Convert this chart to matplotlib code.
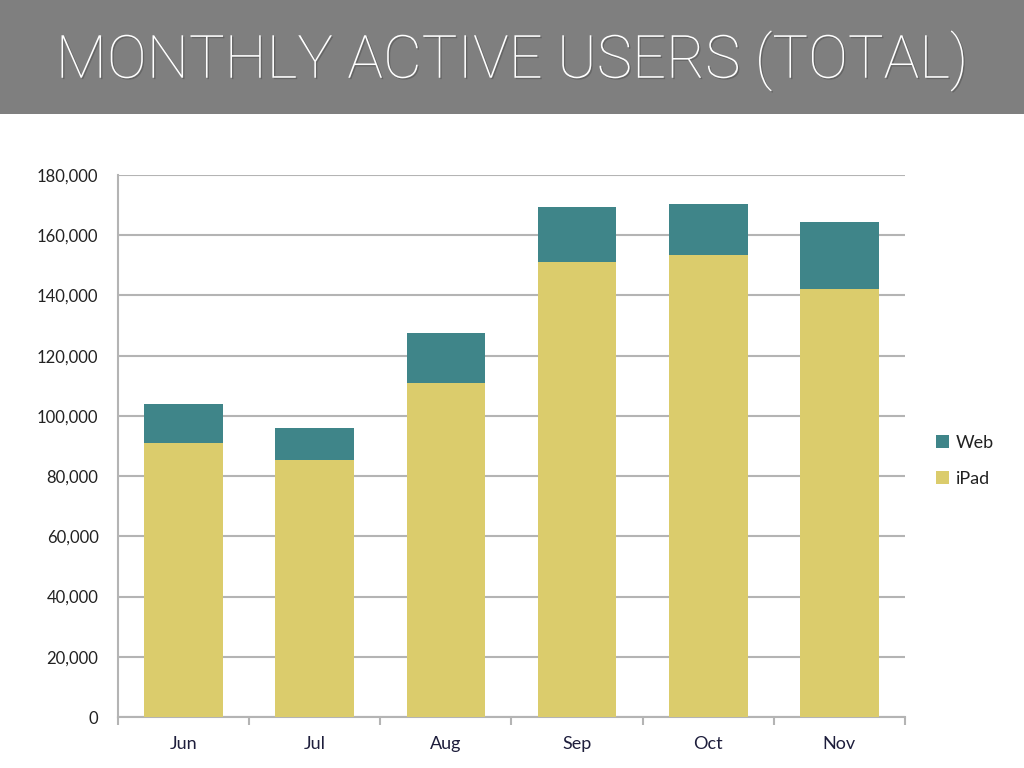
import matplotlib.pyplot as plt
from matplotlib.patches import Rectangle
import matplotlib.patheffects as pe
import numpy as np

months = ['Jun', 'Jul', 'Aug', 'Sep', 'Oct', 'Nov']
ipad = [91000, 85500, 111000, 151000, 153500, 142000]
web = [13000, 10500, 16500, 18500, 17000, 22500]
yticks = [0, 20000, 40000, 60000, 80000, 100000, 120000, 140000, 160000, 180000]

teal = '#3f8589'
yellow = '#dbcc6c'
grid_c = '#b4b4b4'

fig = plt.figure(figsize=(10.24, 7.68), dpi=100)

# gray title banner
fig.patches.append(Rectangle((0, 1 - 114 / 768), 1, 114 / 768, transform=fig.transFigure,
                             facecolor='#7f7f7f', edgecolor='none', zorder=0))
fig.text(0.5, 1 - 61 / 768, 'MONTHLY ACTIVE USERS (TOTAL)', ha='center', va='center',
         color='white', fontsize=43, family='Roboto', fontweight='light',
         path_effects=[pe.withSimplePatchShadow(offset=(1, -1), shadow_rgbFace='#555555', alpha=0.6)])

ax = fig.add_axes([118 / 1024, 1 - 717 / 768, (905 - 118) / 1024, (717 - 175) / 768])
x = np.arange(len(months))
ax.bar(x, ipad, width=0.6, color=yellow, label='iPad', zorder=3)
ax.bar(x, web, width=0.6, bottom=ipad, color=teal, label='Web', zorder=3)

ax.set_xlim(-0.5, len(months) - 0.5)
ax.set_ylim(0, 180000)
ax.set_yticks(yticks)
ax.set_yticklabels([f'{v:,}' for v in yticks], family='Lato', fontsize=12, color='#222222')
ax.yaxis.grid(True, color=grid_c, linewidth=1.5, zorder=0)
ax.tick_params(axis='y', length=0, pad=14)

ax.set_xticks(x)
ax.set_xticklabels(months, family='Lato', fontsize=13, color='#1e1e3c')
ax.set_xticks(np.arange(-0.5, len(months)), minor=True)
ax.tick_params(axis='x', which='major', length=0, pad=14)
ax.tick_params(axis='x', which='minor', length=6, color=grid_c, width=1.5)

for s in ['top', 'right']:
    ax.spines[s].set_visible(False)
for s in ['left', 'bottom']:
    ax.spines[s].set_color(grid_c)
    ax.spines[s].set_linewidth(1.5)

h, l = ax.get_legend_handles_labels()
leg = fig.legend(h[::-1], l[::-1], loc='center left', bbox_to_anchor=(920 / 1024, 1 - 461 / 768),
                 frameon=False, prop={'family': 'Lato', 'size': 13}, handlelength=0.7,
                 handleheight=0.7, handletextpad=0.4, labelspacing=1.1)
for t in leg.get_texts():
    t.set_color('#222222')

fig.savefig('out.png', dpi=100)
